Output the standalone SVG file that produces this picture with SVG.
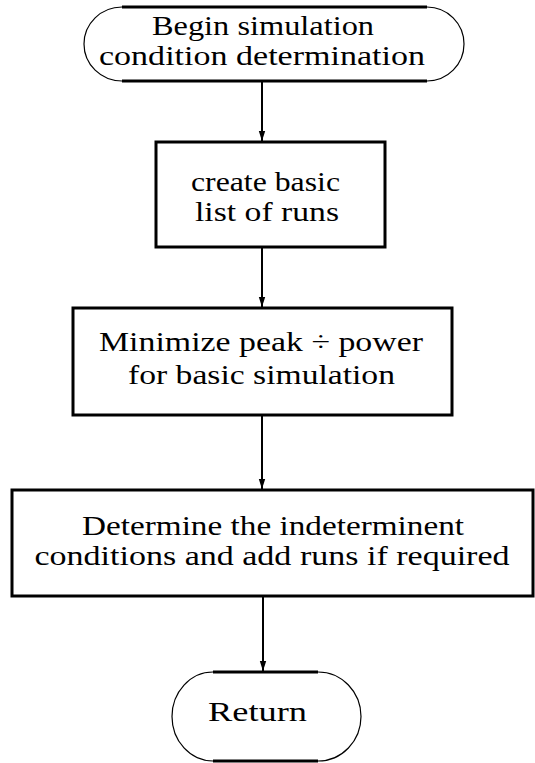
<svg xmlns="http://www.w3.org/2000/svg" width="535" height="763" viewBox="0 0 535 763">
<defs>
<style>
.bx{fill:none;stroke:#000;stroke-width:3}
.edge{fill:none;stroke:#000;stroke-width:3}
.arc{fill:none;stroke:#000;stroke-width:1.2}
.cn{fill:none;stroke:#000;stroke-width:2;marker-end:url(#ah)}
text{font-family:"Liberation Serif","Times New Roman",serif;font-size:27px;fill:#000;text-anchor:middle}
</style>
<marker id="ah" markerWidth="10" markerHeight="8" refX="10" refY="4" orient="auto" markerUnits="userSpaceOnUse">
<path d="M0,0.8 L10,4 L0,7.2 Z" fill="#000"/>
</marker>
</defs>
<rect width="535" height="763" fill="#fff"/>
<g id="connectors">
<line class="cn" x1="262" y1="82" x2="262" y2="141"/>
<line class="cn" x1="262" y1="248" x2="262" y2="307"/>
<line class="cn" x1="262" y1="416" x2="262" y2="489"/>
<line class="cn" x1="263" y1="597" x2="263" y2="671"/>
</g>
<g id="begin">
<line class="edge" x1="122" y1="7" x2="427" y2="7"/>
<line class="edge" x1="122" y1="81" x2="427" y2="81"/>
<path class="arc" d="M122,7 A38,37 0 0 0 122,81"/>
<path class="arc" d="M427,7 A37,37 0 0 1 427,81"/>
<text x="263" y="35" textLength="222" lengthAdjust="spacingAndGlyphs">Begin simulation</text>
<text x="262" y="65" textLength="326" lengthAdjust="spacingAndGlyphs">condition determination</text>
</g>
<g id="create">
<rect class="bx" x="156" y="142" width="229" height="105"/>
<text x="265.5" y="191" textLength="149" lengthAdjust="spacingAndGlyphs">create basic</text>
<text x="267" y="221" textLength="144" lengthAdjust="spacingAndGlyphs">list of runs</text>
</g>
<g id="minimize">
<rect class="bx" x="73" y="308" width="379" height="107"/>
<text x="261" y="351" textLength="324" lengthAdjust="spacingAndGlyphs">Minimize peak ÷ power</text>
<text x="261.5" y="384" textLength="267" lengthAdjust="spacingAndGlyphs">for basic simulation</text>
</g>
<g id="determine">
<rect class="bx" x="12" y="490" width="521" height="106"/>
<text x="273" y="535" textLength="382" lengthAdjust="spacingAndGlyphs">Determine the indeterminent</text>
<text x="272" y="565" textLength="475" lengthAdjust="spacingAndGlyphs">conditions and add runs if required</text>
</g>
<g id="return">
<line class="edge" x1="213" y1="672" x2="318" y2="672"/>
<line class="edge" x1="213" y1="761" x2="318" y2="761"/>
<path class="arc" d="M213,672 A41,44.5 0 0 0 213,761"/>
<path class="arc" d="M318,672 A43,44.5 0 0 1 318,761"/>
<text x="257.5" y="721" textLength="99" lengthAdjust="spacingAndGlyphs">Return</text>
</g>
</svg>
